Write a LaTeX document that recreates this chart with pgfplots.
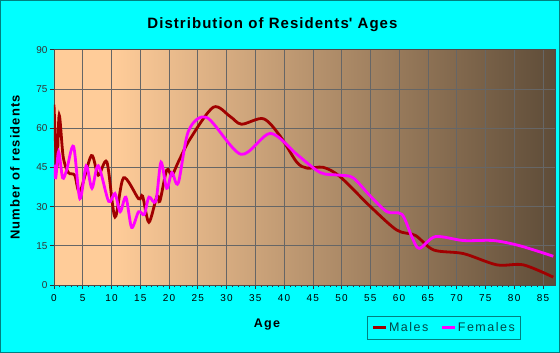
\documentclass[border=0pt]{standalone}
\usepackage{fontspec}
\setmainfont{Liberation Sans}
\usepackage{pgfplots}
\pgfplotsset{compat=1.18}
\definecolor{bgcyan}{HTML}{00FFFF}
\definecolor{frameteal}{HTML}{008080}
\definecolor{legtext}{HTML}{004848}
\definecolor{peach}{HTML}{FFCC99}
\definecolor{darkbrown}{HTML}{5E4C38}
\definecolor{males}{HTML}{A00000}
\definecolor{females}{HTML}{FF00FF}
\pgfdeclarehorizontalshading{plotbg}{100bp}{color(0bp)=(peach); color(25bp)=(peach); color(31bp)=(peach); color(75bp)=(darkbrown); color(100bp)=(darkbrown)}
\begin{document}
\begin{tikzpicture}[x=1pt,y=1pt]
\fill[bgcyan] (0,0) rectangle (560,353);
\draw[frameteal, line width=1pt] (0.5,0.5) rectangle (559.5,352.5);
\begin{axis}[
  at={(54pt,68pt)}, anchor=south west,
  scale only axis, width=501pt, height=235.3pt,
  xmin=0, xmax=87.1, ymin=0, ymax=90,
  xtick={0,5,...,85}, ytick={0,15,...,90},
  minor x tick num=4,
  tick pos=left, tick align=outside,
  major tick length=4pt, minor tick length=2.5pt,
  every tick/.style={black!80, line width=0.6pt},
  grid=major,
  major grid style={black!60, line width=0.6pt},
  axis line style={black!70, line width=0.8pt},
  axis background/.style={shading=plotbg},
  /pgf/number format/assume math mode=true,
  xticklabel style={font=\fontsize{10}{11}\selectfont\addfontfeature{LetterSpace=12}, yshift=-2pt},
  yticklabel style={font=\fontsize{10}{11}\selectfont, black!80, xshift=1pt},
  title={Distribution of Residents\textquotesingle{} Ages},
  title style={font=\fontsize{15}{17}\selectfont\bfseries\addfontfeature{LetterSpace=7}, at={(axis description cs:0.436,1.082)}, anchor=center},
  xlabel={Age},
  xlabel style={font=\fontsize{12.5}{14}\selectfont\bfseries\addfontfeature{LetterSpace=10}, at={(axis description cs:0.425,-0.170)}, anchor=center},
  ylabel={Number of residents},
  ylabel style={font=\fontsize{13}{15}\selectfont\bfseries\addfontfeature{LetterSpace=9}, at={(axis description cs:-0.078,0.5)}, anchor=center, rotate=0},
  legend columns=2,
  legend style={at={(axis description cs:0.625,-0.132)}, anchor=north west,
    draw=frameteal, fill=bgcyan, line width=0.8pt, text=legtext,
    font=\fontsize{12.5}{14}\selectfont\addfontfeature{LetterSpace=12},
    inner xsep=4pt, inner ysep=4pt,
    /tikz/every even column/.append style={column sep=10pt}},
  legend image code/.code={\draw[#1, line width=2.5pt] (0pt,0pt) -- (13pt,0pt);},
]
\addplot[males, line width=2.8pt, smooth, tension=0.5] coordinates {
(0,69)(0.5,45)(0.9,65)(1.6,49)(2.5,43)(3.6,42)(4.5,35.7)(6.5,49.5)(7.7,42)(9.2,47)(10.6,26)(12.1,41)(14.7,33)(15.4,34)(16.5,24)(17.9,34)(18.4,32)(19.6,44)(20.5,42)(21.6,47)(23.7,56)(27.7,68)(30.6,64.5)(32.6,61.5)(36.4,63.6)(39.3,57)(42.2,47)(44,44.7)(46.8,45)(49.7,41.5)(55,30)(59.6,21)(62.8,19)(66,13.4)(71.2,12)(77,7.7)(81.6,7.7)(86.8,3)
};
\addlegendentry{Males}
\addplot[females, line width=2.8pt, smooth, tension=0.5] coordinates {
(0,46)(0.3,41)(0.8,51)(1.5,41)(2.2,44)(3.4,53)(4.5,33)(5.6,45.6)(6.6,37)(7.7,45.6)(9.5,32)(10.6,35)(11.5,28)(12.5,33.6)(13.5,22)(14.7,28)(15.7,27)(16.5,33.6)(17.7,32)(18.6,47)(19.6,37)(20.5,43)(21.6,39)(23.4,59)(26.6,64)(32.5,50)(37.6,58)(42.2,50)(46.3,43)(49.7,42)(52,41)(55,34)(57.9,28)(60.5,27)(62.2,18.5)(63.5,14)(66.3,18.5)(71.2,17)(76.4,17)(81,15)(86.8,11)
};
\addlegendentry{Females}
\end{axis}
\end{tikzpicture}
\end{document}
